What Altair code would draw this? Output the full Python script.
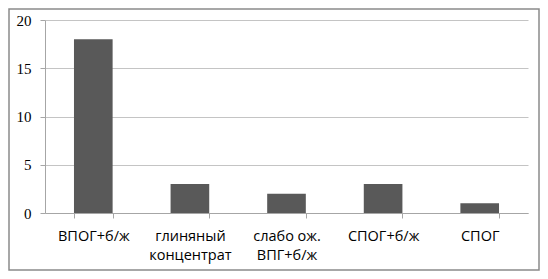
import altair as alt
import pandas as pd

categories = ["ВПОГ+б/ж", "глиняный|концентрат", "слабо ож.|ВПГ+б/ж", "СПОГ+б/ж", "СПОГ"]
values = [18, 3, 2, 3, 1]
y_ticks = [0, 5, 10, 15, 20]

df = pd.DataFrame({"cat": categories, "val": values})

W, H = 483, 193
PL, PT, PR, PB = 37, 12, 12, 58

bars = alt.Chart(df).mark_bar(color="#595959").encode(
    x=alt.X("cat:N", sort=categories,
            scale=alt.Scale(paddingInner=0.6, paddingOuter=0.3),
            axis=alt.Axis(title=None, labelAngle=0, tickBand="extent",
                          labelExpr="split(datum.label, '|')",
                          labelFont="Open Sans", labelFontSize=14.5,
                          labelColor="#000", labelPadding=11, labelLineHeight=19,
                          domainColor="#a6a6a6", tickColor="#a6a6a6", tickSize=5,
                          grid=False)),
    y=alt.Y("val:Q", scale=alt.Scale(domain=[0, 20]),
            axis=alt.Axis(title=None, values=y_ticks, grid=True, gridColor="#c4c4c4",
                          domain=True, domainColor="#a6a6a6", tickColor="#a6a6a6",
                          tickSize=5, labelFont="Liberation Serif", labelFontSize=15,
                          labelColor="#000", labelPadding=9)),
)

frame = alt.Chart(pd.DataFrame({"a": [0]})).mark_rect(
    fill=None, stroke="#8a8a8a", strokeWidth=1.5
).encode(
    x=alt.value(-PL + 1), x2=alt.value(W + PR - 1),
    y=alt.value(-PT + 1), y2=alt.value(H + PB - 1),
)

chart = alt.layer(bars, frame).properties(
    width=W, height=H,
    autosize=alt.AutoSizeParams(type="none"),
    padding={"left": PL, "top": PT, "right": PR, "bottom": PB},
).configure_view(stroke=None)

chart.save("out.html", embed_options={"renderer": "svg", "actions": False})
